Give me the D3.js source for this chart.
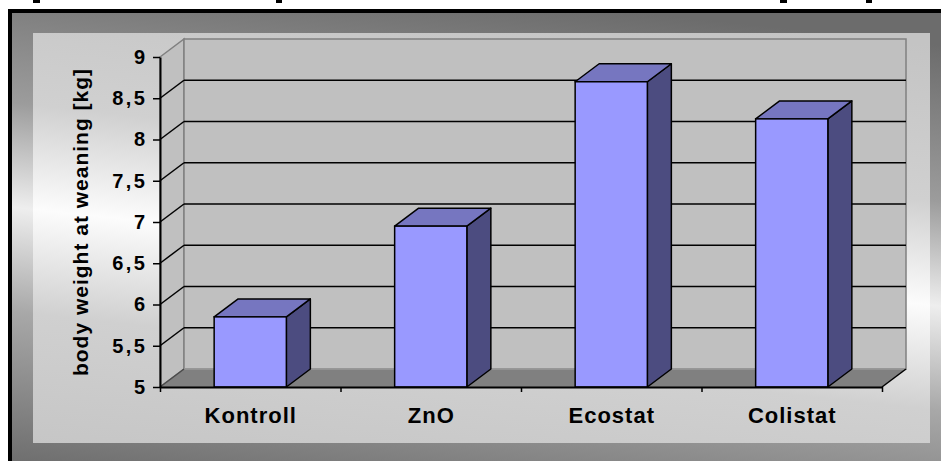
<!DOCTYPE html>
<html>
<head>
<meta charset="utf-8">
<script src="https://cdn.jsdelivr.net/npm/d3@7"></script>
<style>
	body { margin: 0; background: #fff; }
	text { font-family: "Liberation Sans", Arial, sans-serif; font-weight: bold; fill: #000; }
</style>
</head>
<body>
<div id="chart"></div>
<script>
var categories = ["Kontroll", "ZnO", "Ecostat", "Colistat"];
var weights = [5.85, 6.95, 8.7, 8.25];
var yTicks = [5, 5.5, 6, 6.5, 7, 7.5, 8, 8.5, 9];
var gridValues = [5.5, 6, 6.5, 7, 7.5, 8, 8.5];
var yTitle = "body weight at weaning [kg]";

var svgWidth = 941;
var svgHeight = 461;

// depth of the 3d box
var dx = 24;
var dy = -18;

var svg = d3.select("#chart")
	.append("svg")
	.attr("width", svgWidth)
	.attr("height", svgHeight);

var defs = svg.append("defs");

function diagGradient(id, stops) {
	// light band runs slightly downhill from left to right
	var g = defs.append("linearGradient")
		.attr("id", id)
		.attr("gradientUnits", "userSpaceOnUse")
		.attr("x1", 470 + 0.106 * 260).attr("y1", 256 - 0.994 * 260)
		.attr("x2", 470 - 0.106 * 260).attr("y2", 256 + 0.994 * 260);
	stops.forEach(function(s) {
		g.append("stop").attr("offset", s[0]).attr("stop-color", s[1]);
	});
}

diagGradient("frameGrad", [[0, "#6c6c6c"], [0.3, "#9c9c9c"], [0.5, "#eeeeee"], [0.7, "#a8a8a8"], [1, "#6c6c6c"]]);
diagGradient("panelGrad", [[0, "#c4c4c4"], [0.3, "#d0d0d0"], [0.5, "#fcfcfc"], [0.7, "#d0d0d0"], [1, "#c4c4c4"]]);

// outer frame + black border
svg.append("rect")
	.attr("x", 8).attr("y", 9)
	.attr("width", svgWidth - 8).attr("height", svgHeight - 9)
	.attr("fill", "#000");

svg.append("rect")
	.attr("x", 12).attr("y", 13)
	.attr("width", svgWidth - 12).attr("height", svgHeight - 13)
	.attr("fill", "url(#frameGrad)");

svg.append("rect")
	.attr("x", 33).attr("y", 33)
	.attr("width", 897).attr("height", 410)
	.attr("fill", "url(#panelGrad)");

// bits of the cut-off line above
[[33, 7], [276, 6], [780, 7], [866, 6]].forEach(function(p) {
	svg.append("rect").attr("x", p[0]).attr("y", 0).attr("width", p[1]).attr("height", 3).attr("fill", "#000");
});

var xScale = d3.scaleBand()
	.domain(categories)
	.range([160, 882])
	.paddingInner(0.6)
	.paddingOuter(0.3);

var yScale = d3.scaleLinear()
	.domain([5, 9])
	.range([387, 57]);

var edgeScale = d3.scaleLinear()
	.domain([0, categories.length])
	.range([160, 882]);

var x0 = edgeScale(0), x1 = edgeScale(categories.length);
var yTop = yScale(9), yBot = yScale(5);

var walls = svg.append("g");

// left side wall
walls.append("polygon")
	.attr("points", [[x0, yTop], [x0 + dx, yTop + dy], [x0 + dx, yBot + dy], [x0, yBot]].join(" "))
	.attr("fill", "#c0c0c0")
	.attr("stroke", "#808080")
	.attr("stroke-width", 1.5);

// back wall
walls.append("rect")
	.attr("x", x0 + dx).attr("y", yTop + dy)
	.attr("width", x1 - x0).attr("height", yBot - yTop)
	.attr("fill", "#c0c0c0")
	.attr("stroke", "#808080")
	.attr("stroke-width", 1.5);

// gridlines on back wall and side wall
walls.selectAll(".grid-back")
	.data(gridValues)
	.enter()
	.append("line")
	.attr("x1", x0 + dx).attr("x2", x1 + dx)
	.attr("y1", d => yScale(d) + dy).attr("y2", d => yScale(d) + dy)
	.attr("stroke", "#000")
	.attr("stroke-width", 1.5);

walls.selectAll(".grid-side")
	.data(gridValues)
	.enter()
	.append("line")
	.attr("x1", x0).attr("x2", x0 + dx)
	.attr("y1", d => yScale(d)).attr("y2", d => yScale(d) + dy)
	.attr("stroke", "#000")
	.attr("stroke-width", 1.5);

// floor
walls.append("polygon")
	.attr("points", [[x0, yBot], [x0 + dx, yBot + dy], [x1 + dx, yBot + dy], [x1, yBot]].join(" "))
	.attr("fill", "#808080");

walls.append("line")
	.attr("x1", x0 + dx).attr("x2", x1 + dx)
	.attr("y1", yBot + dy).attr("y2", yBot + dy)
	.attr("stroke", "#9a9a9a").attr("stroke-width", 1.5);

walls.append("line")
	.attr("x1", x1).attr("y1", yBot)
	.attr("x2", x1 + dx).attr("y2", yBot + dy)
	.attr("stroke", "#000").attr("stroke-width", 1.5);

walls.append("line")
	.attr("x1", x0).attr("y1", yBot)
	.attr("x2", x0 + dx).attr("y2", yBot + dy)
	.attr("stroke", "#4a4a4a").attr("stroke-width", 1.5);

// bars
var bw = xScale.bandwidth();
var bars = svg.selectAll(".bar")
	.data(categories.map((c, i) => ({ cat: c, value: weights[i] })))
	.enter()
	.append("g")
	.attr("class", "bar");

bars.append("polygon")
	.attr("points", function(d) {
		var l = xScale(d.cat), r = l + bw, t = yScale(d.value);
		return [[r, t], [r + dx, t + dy], [r + dx, yBot + dy], [r, yBot]].join(" ");
	})
	.attr("fill", "#4c4c80")
	.attr("stroke", "#000")
	.attr("stroke-width", 1.5)
	.attr("stroke-linejoin", "round");

bars.append("polygon")
	.attr("points", function(d) {
		var l = xScale(d.cat), r = l + bw, t = yScale(d.value);
		return [[l, t], [l + dx, t + dy], [r + dx, t + dy], [r, t]].join(" ");
	})
	.attr("fill", "#7676c0")
	.attr("stroke", "#000")
	.attr("stroke-width", 1.5)
	.attr("stroke-linejoin", "round");

bars.append("rect")
	.attr("x", d => xScale(d.cat))
	.attr("y", d => yScale(d.value))
	.attr("width", bw)
	.attr("height", d => yBot - yScale(d.value))
	.attr("fill", "#9999ff")
	.attr("stroke", "#000")
	.attr("stroke-width", 1.5);

// x axis: ticks between categories
var xAxis = svg.append("g")
	.attr("transform", `translate(0, ${yBot})`)
	.call(d3.axisBottom(edgeScale)
		.tickValues(d3.range(categories.length + 1))
		.tickSize(5)
		.tickSizeOuter(0)
		.tickFormat(""));
xAxis.select(".domain").attr("stroke", "#000").attr("stroke-width", 2);
xAxis.selectAll(".tick line").attr("stroke", "#000").attr("stroke-width", 1.5);

svg.selectAll(".xlabel")
	.data(categories)
	.enter()
	.append("text")
	.attr("class", "xlabel")
	.attr("x", d => xScale(d) + bw / 2 + 0.5)
	.attr("y", 423)
	.attr("text-anchor", "middle")
	.style("font-size", "22px")
	.style("letter-spacing", "1px")
	.text(d => d);

// y axis
var yAxis = svg.append("g")
	.attr("transform", `translate(${x0}, 0)`)
	.call(d3.axisLeft(yScale)
		.tickValues(yTicks)
		.tickSize(7)
		.tickSizeOuter(0)
		.tickPadding(8)
		.tickFormat(d => String(d).replace(".", ",")));
yAxis.select(".domain").attr("stroke", "#000").attr("stroke-width", 2);
yAxis.selectAll(".tick line").attr("stroke", "#000").attr("stroke-width", 1.5);
yAxis.selectAll(".tick text")
	.style("font-size", "20px")
	.style("font-family", "'Liberation Sans', Arial, sans-serif")
	.style("font-weight", "bold")
	.style("letter-spacing", "2.5px")
	.attr("dx", "2.5")
	.attr("fill", "#000");

svg.append("text")
	.attr("transform", "translate(88, 222) rotate(-90)")
	.attr("text-anchor", "middle")
	.style("font-size", "21px")
	.style("letter-spacing", "1px")
	.text(yTitle);
</script>
</body>
</html>
